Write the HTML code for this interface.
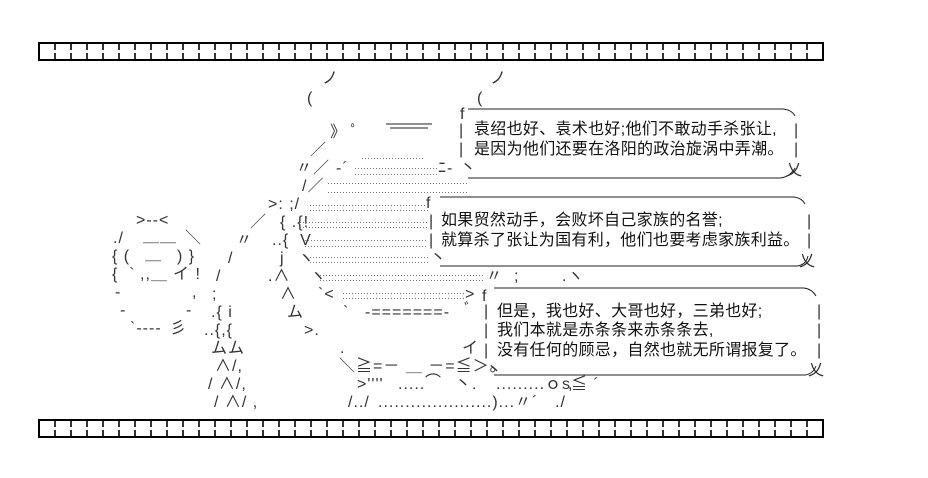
<!DOCTYPE html>
<html><head><meta charset="utf-8">
<style>
body{margin:0;width:928px;height:478px;background:#fff;position:relative;overflow:hidden;font-family:"Liberation Sans","Noto Sans CJK SC",sans-serif;color:#000}
.s{position:absolute;font-size:16px;line-height:18px;white-space:pre;color:#333;letter-spacing:1px}
.t{position:absolute;font-size:16px;line-height:18px;white-space:pre;color:#111;font-family:"Liberation Sans","Noto Sans CJK SC",sans-serif;letter-spacing:0.3px}
.d{position:absolute;height:1px;background:repeating-linear-gradient(90deg,#777 0 1px,transparent 1px 3px)}
svg{position:absolute;left:0;top:0}
</style></head><body>
<svg width="928" height="478">
<rect x="39" y="43" width="784" height="17" fill="none" stroke="#000" stroke-width="2"/>
<rect x="39" y="420" width="784" height="17" fill="none" stroke="#000" stroke-width="2"/>
<g id="dv" stroke="#333" stroke-width="2"></g>
<g fill="none" stroke="#222" stroke-width="1">
<path d="M468 109 L783 109 Q792 110 795 116"/>
<path d="M468 178 L780 178 Q790 177 795 168"/>
<path d="M440 197 L794 197 Q802 198 805 204"/>
<path d="M440 266 L797 266 Q806 265 808 256"/>
<path d="M494 288 L804 288 Q812 289 816 296"/>
<path d="M494 375 L805 375 Q813 374 816 366"/>
<path d="M386 124 H432 M390 128 H428"/>
</g>
</svg>
<script>
(function(){var g=document.getElementById('dv'),h='';for(var y of [43,420])for(var x=55;x<823;x+=16){h+='<line x1="'+x+'" y1="'+(y+1)+'" x2="'+x+'" y2="'+(y+7)+'"/><line x1="'+x+'" y1="'+(y+10)+'" x2="'+x+'" y2="'+(y+16)+'"/>';}g.innerHTML=h;})();
</script>

<div class="t" style="left:474px;top:121px">袁绍也好、袁术也好;他们不敢动手杀张让,</div>
<div class="t" style="left:474px;top:141px">是因为他们还要在洛阳的政治旋涡中弄潮。</div>
<div class="t" style="left:441px;top:212px">如果贸然动手，会败坏自己家族的名誉;</div>
<div class="t" style="left:441px;top:232px">就算杀了张让为国有利，他们也要考虑家族利益。</div>
<div class="t" style="left:497px;top:303px">但是，我也好、大哥也好，三弟也好;</div>
<div class="t" style="left:497px;top:322px">我们本就是赤条条来赤条条去,</div>
<div class="t" style="left:497px;top:342px">没有任何的顾忌，自然也就无所谓报复了。</div>

<div class="s" style="left:460px;top:106px">f</div>
<div class="s" style="left:459px;top:122px">|</div><div class="s" style="left:459px;top:141px">|</div>
<div class="s" style="left:794px;top:122px">|</div><div class="s" style="left:794px;top:141px">|</div>
<div class="s" style="left:786px;top:162px">乂</div>
<div class="s" style="left:460px;top:160px">丶</div>
<div class="s" style="left:426px;top:195px">f</div>
<div class="s" style="left:429px;top:213px">|</div><div class="s" style="left:429px;top:232px">|</div>
<div class="s" style="left:807px;top:213px">|</div><div class="s" style="left:807px;top:232px">|</div>
<div class="s" style="left:799px;top:253px">乂</div>
<div class="s" style="left:430px;top:250px">丶</div>
<div class="s" style="left:482px;top:288px">f</div>
<div class="s" style="left:484px;top:303px">|</div><div class="s" style="left:484px;top:322px">|</div><div class="s" style="left:484px;top:342px">|</div>
<div class="s" style="left:817px;top:303px">|</div><div class="s" style="left:817px;top:322px">|</div><div class="s" style="left:817px;top:342px">|</div>
<div class="s" style="left:808px;top:362px">乂</div>
<div class="s" style="left:486px;top:362px">丶</div>

<div class="s" style="left:322px;top:70px">ノ</div>
<div class="s" style="left:490px;top:70px">ノ</div>
<div class="s" style="left:307px;top:90px">(</div>
<div class="s" style="left:477px;top:90px">(</div>
<div class="s" style="left:330px;top:124px">》 ﾟ</div>
<div class="s" style="left:310px;top:142px">／</div>
<div class="s" style="left:296px;top:160px">〃／</div>
<div class="s" style="left:336px;top:160px">-´</div>
<div class="s" style="left:438px;top:160px">ﾆ-</div>
<div class="s" style="left:302px;top:178px">/／</div>
<div class="s" style="left:268px;top:196px">&gt;: ;/</div>
<div class="s" style="left:250px;top:214px">／</div>
<div class="s" style="left:280px;top:214px">{ .{!</div>
<div class="s" style="left:236px;top:232px">〃</div>
<div class="s" style="left:272px;top:232px">..{  V</div>
<div class="s" style="left:228px;top:250px">/</div>
<div class="s" style="left:280px;top:250px">j</div>
<div class="s" style="left:298px;top:250px">ヽ</div>
<div class="s" style="left:216px;top:268px">/</div>
<div class="s" style="left:268px;top:268px">.∧</div>
<div class="s" style="left:310px;top:268px">ヽ</div>
<div class="s" style="left:486px;top:268px">〃</div>
<div class="s" style="left:514px;top:268px">;</div>
<div class="s" style="left:562px;top:268px">.ヽ</div>
<div class="s" style="left:280px;top:286px">∧</div>
<div class="s" style="left:318px;top:286px">`&lt;</div>
<div class="s" style="left:465px;top:286px">&gt;</div>
<div class="s" style="left:212px;top:286px">;</div>
<div class="s" style="left:211px;top:304px">.{ i</div>
<div class="s" style="left:287px;top:304px">ム</div>
<div class="s" style="left:343px;top:304px">`</div>
<div class="s" style="left:365px;top:304px">-=======-</div>
<div class="s" style="left:464px;top:302px">ﾞ</div>
<div class="s" style="left:204px;top:322px">..{,{</div>
<div class="s" style="left:304px;top:322px">&gt;.</div>
<div class="s" style="left:211px;top:340px">ムム</div>
<div class="s" style="left:462px;top:340px">イ</div>
<div class="s" style="left:340px;top:340px">.</div>
<div class="s" style="left:215px;top:358px">∧/,</div>
<div class="s" style="left:339px;top:358px">＼≧=－ ＿ －=≦＞。</div>
<div class="s" style="left:208px;top:376px">/ ∧/,</div>
<div class="s" style="left:357px;top:376px">&gt;''''</div>
<div class="s" style="left:398px;top:376px">.....</div>
<div class="s" style="left:425px;top:374px">⌒</div>
<div class="s" style="left:455px;top:376px">丶.</div>
<div class="s" style="left:496px;top:376px">.........ｏs≦ ´</div>
<div class="s" style="left:568px;top:376px">,</div>
<div class="s" style="left:214px;top:394px">/ ∧/ ,</div>
<div class="s" style="left:348px;top:394px">/../</div>
<div class="s" style="left:378px;top:394px">.....................)...〃´</div>
<div class="s" style="left:555px;top:394px">./</div>

<div class="s" style="left:136px;top:212px">&gt;--&lt;</div>
<div class="s" style="left:113px;top:230px">./</div>
<div class="s" style="left:143px;top:228px">＿＿</div>
<div class="s" style="left:185px;top:230px">＼</div>
<div class="s" style="left:112px;top:248px">{ (</div>
<div class="s" style="left:145px;top:246px">＿</div>
<div class="s" style="left:177px;top:248px">) }</div>
<div class="s" style="left:112px;top:266px">{  `</div>
<div class="s" style="left:140px;top:266px">,,＿</div>
<div class="s" style="left:173px;top:266px">イ !</div>
<div class="s" style="left:115px;top:284px">-</div>
<div class="s" style="left:192px;top:284px">,</div>
<div class="s" style="left:120px;top:302px">-</div>
<div class="s" style="left:186px;top:302px">-</div>
<div class="s" style="left:130px;top:320px">`----</div>
<div class="s" style="left:170px;top:320px">彡</div>

<div class="d" style="left:362px;top:158px;width:62px"></div>
<div class="d" style="left:355px;top:168px;width:83px"></div>
<div class="d" style="left:355px;top:174px;width:83px"></div>
<div class="d" style="left:328px;top:183px;width:139px"></div>
<div class="d" style="left:328px;top:192px;width:139px"></div>
<div class="d" style="left:310px;top:205px;width:120px"></div>
<div class="d" style="left:310px;top:210px;width:120px"></div>
<div class="d" style="left:300px;top:222px;width:128px"></div>
<div class="d" style="left:300px;top:227px;width:128px"></div>
<div class="d" style="left:305px;top:240px;width:123px"></div>
<div class="d" style="left:305px;top:246px;width:123px"></div>
<div class="d" style="left:310px;top:257px;width:120px"></div>
<div class="d" style="left:310px;top:262px;width:120px"></div>
<div class="d" style="left:320px;top:275px;width:165px"></div>
<div class="d" style="left:320px;top:280px;width:165px"></div>
<div class="d" style="left:343px;top:293px;width:122px"></div>
<div class="d" style="left:343px;top:298px;width:122px"></div>
</body></html>
